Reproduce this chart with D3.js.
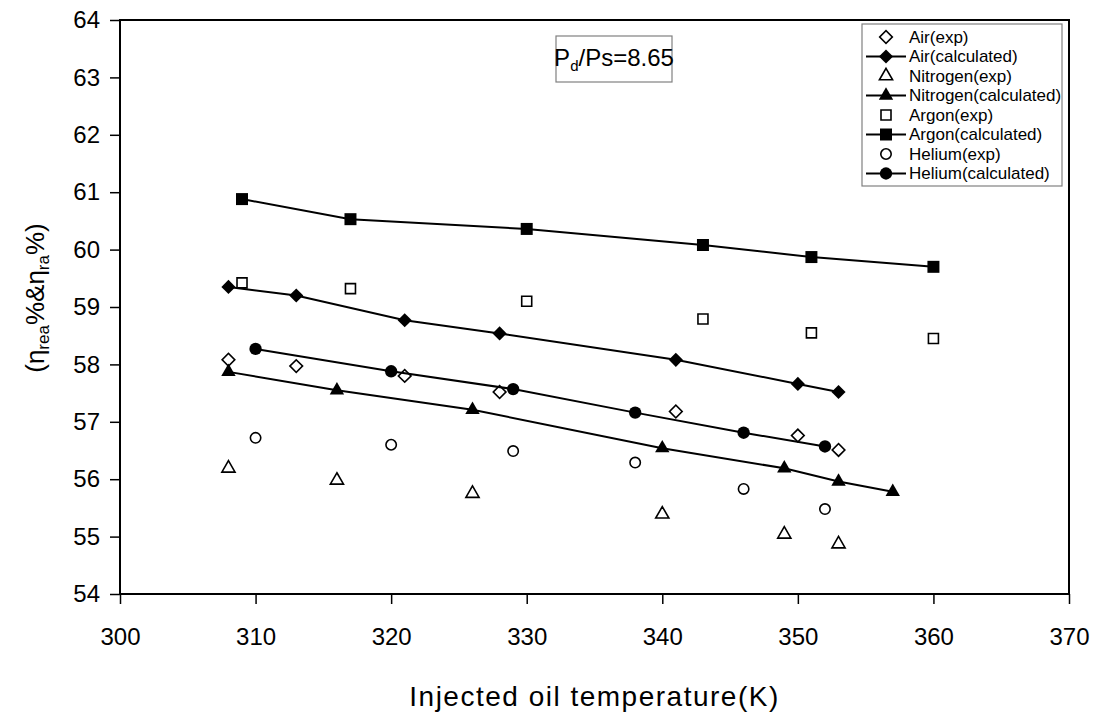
<!DOCTYPE html>
<html>
<head>
<meta charset="utf-8">
<script src="https://cdn.jsdelivr.net/npm/d3@7"></script>
<style>
  body { margin: 0; background: #fff; }
  text { font-family: "Liberation Sans", Arial, sans-serif; fill: #000; }
</style>
</head>
<body>
<div id="chart"></div>
<script>
// Data

var airT = [308, 313, 321, 328, 341, 350, 353];
var airExp = [58.08, 57.97, 57.80, 57.52, 57.18, 56.76, 56.51];
var airCalc = [59.35, 59.20, 58.77, 58.54, 58.08, 57.66, 57.52];

var n2ExpT = [308, 316, 326, 340, 349, 353];
var n2Exp = [56.19, 55.98, 55.75, 55.39, 55.04, 54.87];
var n2CalcT = [308, 316, 326, 340, 349, 353, 357];
var n2Calc = [57.87, 57.55, 57.21, 56.54, 56.19, 55.96, 55.78];

var arT = [309, 317, 330, 343, 351, 360];
var arExp = [59.42, 59.32, 59.10, 58.79, 58.55, 58.45];
var arCalc = [60.88, 60.53, 60.36, 60.08, 59.87, 59.70];

var heT = [310, 320, 329, 338, 346, 352];
var heExp = [56.72, 56.60, 56.49, 56.29, 55.83, 55.48];
var heCalc = [58.27, 57.88, 57.57, 57.16, 56.81, 56.57];

var xTicks = [300, 310, 320, 330, 340, 350, 360, 370];
var yTicks = [54, 55, 56, 57, 58, 59, 60, 61, 62, 63, 64];

var legendNames = ["Air(exp)", "Air(calculated)", "Nitrogen(exp)", "Nitrogen(calculated)",
  "Argon(exp)", "Argon(calculated)", "Helium(exp)", "Helium(calculated)"];

// Graph space

var width = 1100;
var height = 722;
var margin = { top: 20, right: 31, bottom: 128, left: 120 };

var svg = d3.select("#chart")
  .append("svg")
  .attr("width", width)
  .attr("height", height);

var x = d3.scaleLinear().domain([300, 370]).range([margin.left, width - margin.right]);
var y = d3.scaleLinear().domain([54, 64]).range([height - margin.bottom, margin.top]);

// Axes
var xAxis = svg.append("g")
  .attr("transform", "translate(0," + (height - margin.bottom) + ")")
  .call(d3.axisBottom(x).tickValues(xTicks).tickSize(10).tickPadding(24).tickFormat(d3.format("d")));

var yAxis = svg.append("g")
  .attr("transform", "translate(" + margin.left + ",0)")
  .call(d3.axisLeft(y).tickValues(yTicks).tickSize(10).tickPadding(10).tickFormat(d3.format("d")));

[xAxis, yAxis].forEach(function (g) {
  g.select(".domain").remove();
  g.selectAll(".tick line").attr("stroke", "#000").attr("stroke-width", 1.5);
  g.selectAll(".tick text").style("font-size", "24px");
});

// Plot frame
svg.append("rect")
  .attr("x", x(300))
  .attr("y", y(64))
  .attr("width", x(370) - x(300))
  .attr("height", y(54) - y(64))
  .attr("fill", "none")
  .attr("stroke", "#000")
  .attr("stroke-width", 2);

// Series setup
var sym = {
  diamond: function (g, filled) {
    g.append("path").attr("d", d3.symbol().type(d3.symbolSquare).size(filled ? 100 : 80)())
      .attr("transform", "rotate(45)");
  },
  triangle: function (g, filled) {
    g.append("path").attr("d", d3.symbol().type(d3.symbolTriangle).size(filled ? 90 : 75)());
  },
  square: function (g, filled) {
    g.append("path").attr("d", d3.symbol().type(d3.symbolSquare).size(filled ? 144 : 100)());
  },
  circle: function (g, filled) {
    g.append("path").attr("d", d3.symbol().type(d3.symbolCircle).size(filled ? 120 : 85)());
  }
};

var series = [
  { t: airT, v: airExp, shape: "diamond", filled: false },
  { t: airT, v: airCalc, shape: "diamond", filled: true },
  { t: n2ExpT, v: n2Exp, shape: "triangle", filled: false },
  { t: n2CalcT, v: n2Calc, shape: "triangle", filled: true },
  { t: arT, v: arExp, shape: "square", filled: false },
  { t: arT, v: arCalc, shape: "square", filled: true },
  { t: heT, v: heExp, shape: "circle", filled: false },
  { t: heT, v: heCalc, shape: "circle", filled: true }
];

function drawMarker(g, s) {
  sym[s.shape](g, s.filled);
  g.select("path")
    .attr("fill", s.filled ? "#000" : "#fff")
    .attr("stroke", "#000")
    .attr("stroke-width", s.filled ? 0 : 1.6);
}

var line = d3.line()
  .x(function (d) { return x(d[0]); })
  .y(function (d) { return y(d[1]); });

series.forEach(function (s) {
  var pts = s.t.map(function (t, i) { return [t, s.v[i]]; });
  if (s.filled) {
    svg.append("path")
      .datum(pts)
      .attr("d", line)
      .attr("fill", "none")
      .attr("stroke", "#000")
      .attr("stroke-width", 2);
  }
  pts.forEach(function (p) {
    var g = svg.append("g").attr("transform", "translate(" + x(p[0]) + "," + y(p[1]) + ")");
    drawMarker(g, s);
  });
});

// Legend
var legW = 200, legRow = 19.5, legRight = 1062, legY = 24;
var legX = legRight - legW;
var legend = svg.append("g");
legend.append("rect")
  .attr("x", legX).attr("y", legY)
  .attr("width", legW).attr("height", legRow * 8 + 6)
  .attr("fill", "#fff").attr("stroke", "#808080").attr("stroke-width", 1.2);

series.forEach(function (s, i) {
  var cy = legY + 13 + i * legRow;
  if (s.filled) {
    legend.append("line")
      .attr("x1", legX + 4).attr("x2", legX + 44)
      .attr("y1", cy).attr("y2", cy)
      .attr("stroke", "#000").attr("stroke-width", 2);
  }
  var g = legend.append("g").attr("transform", "translate(" + (legX + 24) + "," + cy + ")");
  drawMarker(g, s);
  legend.append("text")
    .attr("x", legX + 47).attr("y", cy)
    .attr("dy", "0.35em")
    .style("font-size", "17px")
    .text(legendNames[i]);
});

// Pressure ratio note
var note = svg.append("g");
note.append("rect")
  .attr("x", 556).attr("y", 36).attr("width", 116).attr("height", 46)
  .attr("fill", "#fff").attr("stroke", "#808080").attr("stroke-width", 1.2);
var noteText = note.append("text")
  .attr("x", 614).attr("y", 66)
  .attr("text-anchor", "middle")
  .style("font-size", "24px");
noteText.append("tspan").text("P");
noteText.append("tspan").attr("dy", 5).style("font-size", "15px").text("d");
noteText.append("tspan").attr("dy", -5).text("/Ps=8.65");

// Axis titles
svg.append("text")
  .attr("x", (x(300) + x(370)) / 2)
  .attr("y", 706)
  .attr("text-anchor", "middle")
  .style("font-size", "28px")
  .style("letter-spacing", "1.5px")
  .text("Injected oil temperature(K)");

var yLabel = svg.append("text")
  .attr("transform", "translate(44," + 298 + ") rotate(-90)")
  .attr("text-anchor", "middle")
  .style("font-size", "26px");
yLabel.append("tspan").text("(\u03b7");
yLabel.append("tspan").attr("dy", 5).style("font-size", "17px").text("rea");
yLabel.append("tspan").attr("dy", -5).text("%&\u03b7");
yLabel.append("tspan").attr("dy", 5).style("font-size", "17px").text("ra");
yLabel.append("tspan").attr("dy", -5).text("%)");
</script>
</body>
</html>
